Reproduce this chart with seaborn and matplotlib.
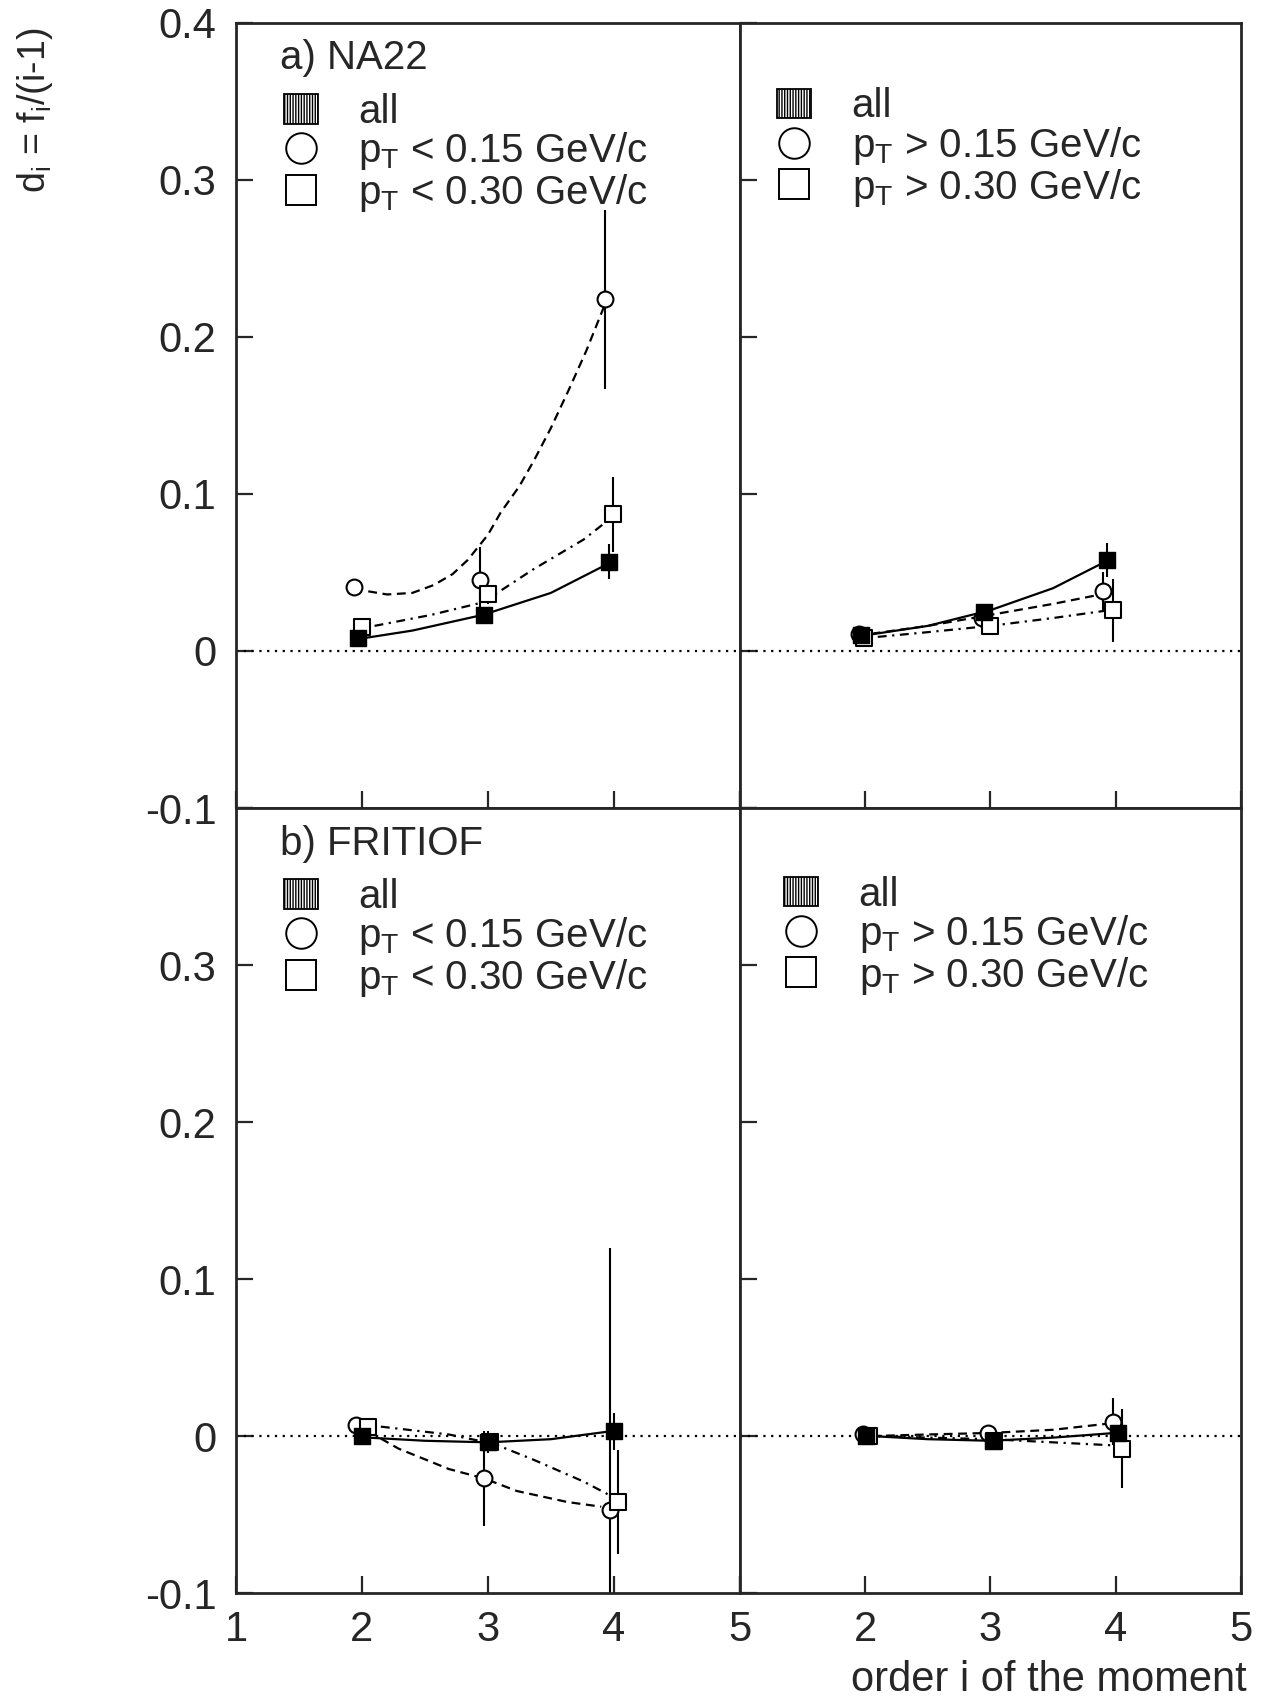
import numpy as np
import matplotlib
matplotlib.use("Agg")
import matplotlib.pyplot as plt
import seaborn as sns
from matplotlib.patches import Patch
from matplotlib.lines import Line2D

sns.set_style("ticks")
plt.rcParams['font.family'] = ['Liberation Sans', 'DejaVu Sans']
plt.rcParams['mathtext.fontset'] = 'custom'
plt.rcParams['mathtext.rm'] = 'Liberation Sans'
plt.rcParams['mathtext.it'] = 'Liberation Sans:italic'
plt.rcParams['mathtext.default'] = 'regular'
plt.rcParams['axes.unicode_minus'] = False

# ---------------------------
# data read off the figure: measured points (x, y, error) and fitted curves
# ---------------------------
# a) NA22, pT < cut
na_lo_all_x = [1.97, 2.97, 3.96]
na_lo_all_y = [0.008, 0.023, 0.057]
na_lo_all_e = [0.003, 0.004, 0.011]
na_lo_c_x = [1.94, 2.94, 3.93]
na_lo_c_y = [0.041, 0.045, 0.224]
na_lo_c_e = [0.003, 0.021, 0.057]
na_lo_s_x = [2.00, 3.00, 3.99]
na_lo_s_y = [0.015, 0.036, 0.087]
na_lo_s_e = [0.003, 0.006, 0.024]
na_lo_all_fx = [2.0, 2.4, 2.96, 3.5, 3.94]
na_lo_all_fy = [0.008, 0.013, 0.023, 0.037, 0.055]
na_lo_c_fx = [2.05, 2.2, 2.4, 2.57, 2.72, 2.84, 3.0, 3.1, 3.25, 3.37, 3.5, 3.64, 3.78, 3.92]
na_lo_c_fy = [0.038, 0.036, 0.037, 0.042, 0.049, 0.058, 0.074, 0.088, 0.105, 0.122, 0.142, 0.166, 0.191, 0.219]
na_lo_s_fx = [2.1, 2.55, 2.96, 3.36, 3.76, 3.95]
na_lo_s_fy = [0.016, 0.023, 0.031, 0.052, 0.071, 0.083]

# a) NA22, pT > cut
na_hi_all_x = [1.97, 2.95, 3.93]
na_hi_all_y = [0.010, 0.025, 0.058]
na_hi_all_e = [0.002, 0.004, 0.011]
na_hi_c_x = [1.95, 2.93, 3.90]
na_hi_c_y = [0.011, 0.021, 0.038]
na_hi_c_e = [0.002, 0.004, 0.012]
na_hi_s_x = [1.99, 3.00, 3.98]
na_hi_s_y = [0.008, 0.016, 0.026]
na_hi_s_e = [0.002, 0.004, 0.020]
na_hi_all_fx = [2.0, 2.5, 3.0, 3.5, 3.92]
na_hi_all_fy = [0.010, 0.016, 0.026, 0.040, 0.057]
na_hi_c_fx = [2.05, 2.5, 3.0, 3.5, 3.88]
na_hi_c_fy = [0.011, 0.016, 0.023, 0.030, 0.036]
na_hi_s_fx = [2.1, 2.5, 3.0, 3.5, 3.95]
na_hi_s_fy = [0.009, 0.012, 0.016, 0.021, 0.026]

# b) FRITIOF, pT < cut
fr_lo_all_x = [2.00, 3.00, 4.00]
fr_lo_all_y = [0.000, -0.004, 0.003]
fr_lo_all_e = [0.003, 0.007, 0.012]
fr_lo_c_x = [1.95, 2.97, 3.97]
fr_lo_c_y = [0.007, -0.027, -0.047]
fr_lo_c_e = [0.004, 0.030, 0.167]
fr_lo_s_x = [2.05, 3.02, 4.03]
fr_lo_s_y = [0.006, -0.004, -0.042]
fr_lo_s_e = [0.003, 0.005, 0.033]
fr_lo_all_fx = [2.05, 2.5, 3.0, 3.5, 3.97]
fr_lo_all_fy = [-0.001, -0.003, -0.004, -0.002, 0.003]
fr_lo_c_fx = [2.05, 2.29, 2.69, 2.97, 3.23, 3.63, 3.9]
fr_lo_c_fy = [0.003, -0.008, -0.021, -0.027, -0.035, -0.042, -0.045]
fr_lo_s_fx = [2.15, 2.69, 3.05, 3.36, 3.76, 3.95]
fr_lo_s_fy = [0.006, 0.001, -0.005, -0.015, -0.029, -0.037]

# b) FRITIOF, pT > cut
fr_hi_all_x = [2.01, 3.02, 4.02]
fr_hi_all_y = [0.000, -0.003, 0.002]
fr_hi_all_e = [0.002, 0.003, 0.006]
fr_hi_c_x = [1.98, 2.98, 3.98]
fr_hi_c_y = [0.001, 0.002, 0.009]
fr_hi_c_e = [0.002, 0.003, 0.015]
fr_hi_s_x = [2.03, 3.03, 4.05]
fr_hi_s_y = [0.000, -0.003, -0.008]
fr_hi_s_e = [0.002, 0.003, 0.025]
fr_hi_all_fx = [2.05, 2.5, 3.0, 3.5, 4.0]
fr_hi_all_fy = [0.000, -0.002, -0.003, -0.001, 0.002]
fr_hi_c_fx = [2.05, 2.5, 3.0, 3.5, 3.95]
fr_hi_c_fy = [0.000, 0.001, 0.002, 0.004, 0.008]
fr_hi_s_fx = [2.05, 2.5, 3.0, 3.5, 4.0]
fr_hi_s_fy = [0.000, -0.001, -0.002, -0.004, -0.006]

y_ticks = [-0.1, 0, 0.1, 0.2, 0.3, 0.4]
y_ticklabels = ["-0.1", "0", "0.1", "0.2", "0.3", "0.4"]
x_ticks = [1, 2, 3, 4, 5]

lab_lo = ["all", r"p$_T$ < 0.15 GeV/c", r"p$_T$ < 0.30 GeV/c"]
lab_hi = ["all", r"p$_T$ > 0.15 GeV/c", r"p$_T$ > 0.30 GeV/c"]

# ---------------------------
# figure layout: 2x2 panels sharing edges
# ---------------------------
fig = plt.figure(figsize=(12.66, 17), dpi=100)
L, W1, M, W2 = 0.1864, 0.398, 0.5845, 0.3957
B, H = 0.0629, 0.4618
T0 = 0.5247
ax_tl = fig.add_axes([L, T0, W1, H])
ax_tr = fig.add_axes([M, T0, W2, H])
ax_bl = fig.add_axes([L, B, W1, H])
ax_br = fig.add_axes([M, B, W2, H])

DASH = (0, (4, 2.5))
DASHDOT = (0, (4, 2.5, 1, 2.5))


def draw_panel(ax, d):
    ax.axhline(0, color="black", lw=1.6, ls=(0, (1, 2.5)), zorder=1)
    # fitted curves
    sns.lineplot(x=d["all_fx"], y=d["all_fy"], ax=ax, color="black", lw=1.6,
                 sort=False, estimator=None)
    sns.lineplot(x=d["c_fx"], y=d["c_fy"], ax=ax, color="black", lw=1.6,
                 linestyle=DASH, sort=False, estimator=None)
    sns.lineplot(x=d["s_fx"], y=d["s_fy"], ax=ax, color="black", lw=1.6,
                 linestyle=DASHDOT, sort=False, estimator=None)
    # error bars
    for k in ["all", "c", "s"]:
        ax.errorbar(d[k + "_x"], d[k + "_y"], yerr=d[k + "_e"], fmt="none",
                    ecolor="black", elinewidth=1.5, capsize=0, zorder=2)
    # markers
    sns.scatterplot(x=d["c_x"], y=d["c_y"], ax=ax, marker="o", s=130,
                    color="black", facecolor="white", edgecolor="black",
                    linewidth=1.5, zorder=3)
    sns.scatterplot(x=d["s_x"], y=d["s_y"], ax=ax, marker="s", s=120,
                    color="black", facecolor="white", edgecolor="black",
                    linewidth=1.5, zorder=3)
    sns.scatterplot(x=d["all_x"], y=d["all_y"], ax=ax, marker="s", s=120,
                    color="black", edgecolor="black", linewidth=1.0, zorder=4)

    ax.set_xlim(1, 5)
    ax.set_ylim(-0.1, 0.4)
    ax.set_xticks(x_ticks)
    ax.set_yticks(y_ticks)
    ax.tick_params(direction="in", length=12, width=1.6, labelsize=30,
                   top=False, right=False)
    ax.tick_params(axis="y", pad=14)
    ax.tick_params(axis="x", pad=12)
    for sp in ax.spines.values():
        sp.set_linewidth(2.0)
        sp.set_visible(True)
    ax.set_xlabel("")
    ax.set_ylabel("")


def panel_data(prefix):
    g = globals()
    keys = ["all_x", "all_y", "all_e", "c_x", "c_y", "c_e", "s_x", "s_y", "s_e",
            "all_fx", "all_fy", "c_fx", "c_fy", "s_fx", "s_fy"]
    return {k: g[prefix + "_" + k] for k in keys}


draw_panel(ax_tl, panel_data("na_lo"))
draw_panel(ax_tr, panel_data("na_hi"))
draw_panel(ax_bl, panel_data("fr_lo"))
draw_panel(ax_br, panel_data("fr_hi"))

# tick labels: only on outer edges
ax_tl.set_yticklabels(y_ticklabels)
ax_bl.set_yticklabels(y_ticklabels[:-1] + [""])
for ax in [ax_tr, ax_br]:
    ax.set_yticklabels([""] * len(y_ticks))
for ax in [ax_tl, ax_tr]:
    ax.set_xticklabels([""] * len(x_ticks))
ax_bl.set_xticklabels(["1", "2", "3", "4", "5"])
ax_br.set_xticklabels(["", "2", "3", "4", "5"])


# legends
def make_legend(ax, labels, x0, y0):
    handles = [
        Patch(facecolor="white", edgecolor="black", hatch="||||||", lw=1.3),
        Line2D([], [], marker="o", ls="none", ms=22, mfc="white", mec="black", mew=1.4),
        Line2D([], [], marker="s", ls="none", ms=21, mfc="white", mec="black", mew=1.4),
    ]
    leg = ax.legend(handles, labels, loc="upper left",
                    bbox_to_anchor=(x0, y0), frameon=False,
                    fontsize=29, handlelength=0.85, handleheight=0.75,
                    handletextpad=1.0, labelspacing=-0.01,
                    borderpad=0, borderaxespad=0)
    return leg


make_legend(ax_tl, lab_lo, 0.095, 0.911)
make_legend(ax_tr, lab_hi, 0.074, 0.918)
make_legend(ax_bl, lab_lo, 0.095, 0.911)
make_legend(ax_br, lab_hi, 0.088, 0.914)

ax_tl.text(0.087, 0.955, "a) NA22", transform=ax_tl.transAxes, ha="left",
           va="center", fontsize=29)
ax_bl.text(0.087, 0.954, "b) FRITIOF", transform=ax_bl.transAxes, ha="left",
           va="center", fontsize=29)

fig.text(0.028, 0.984, r"d$_i$ = f$_i$/(i-1)", rotation=90, ha="center", va="top",
         fontsize=27)
fig.text(0.985, 0.012, "order i of the moment", ha="right", va="center", fontsize=30)

fig.savefig("out.png", dpi=100)
